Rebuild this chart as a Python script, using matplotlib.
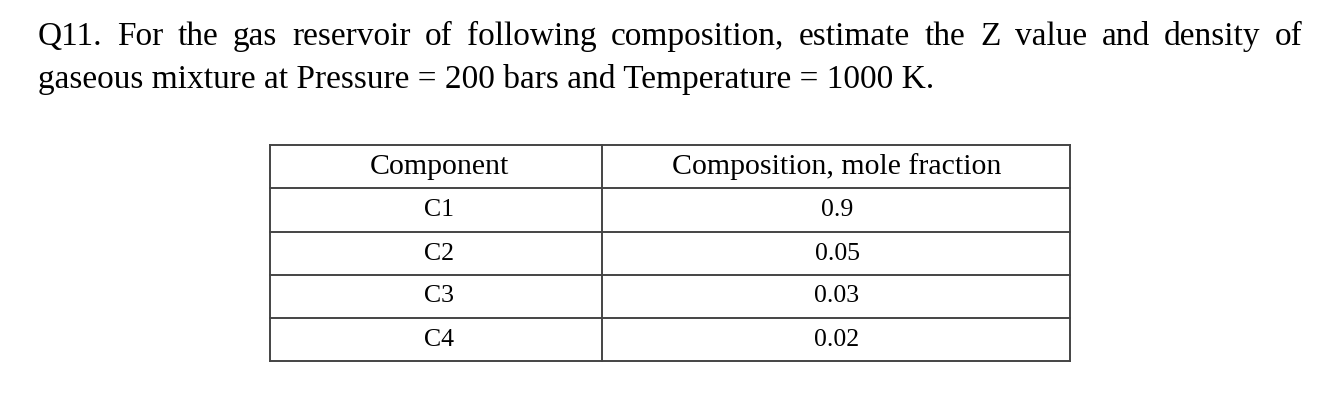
import matplotlib
matplotlib.use("Agg")
import matplotlib.pyplot as plt

components = ["C1", "C2", "C3", "C4"]
fractions = ["0.9", "0.05", "0.03", "0.02"]
headers = ["Component", "Composition, mole fraction"]
line1 = "Q11. For the gas reservoir of following composition, estimate the Z value and density of"
line2 = "gaseous mixture at Pressure = 200 bars and Temperature = 1000 K."

W, H = 1340, 408
fig = plt.figure(figsize=(W/100, H/100), dpi=100)
ax = fig.add_axes([0, 0, 1, 1])
ax.set_xlim(0, W); ax.set_ylim(H, 0); ax.axis("off")
FAM = "Liberation Serif"
FS = 24

fig.canvas.draw()
r = fig.canvas.get_renderer()
words = line1.split()
texts = [ax.text(0, 45, w, fontsize=FS, family=FAM, va="baseline") for w in words]
widths = [t.get_window_extent(r).width for t in texts]
left, right = 38, 1303
gap = (right - left - sum(widths)) / (len(words) - 1)
x = left
for t, w in zip(texts, widths):
    t.set_x(x); x += w + gap
ax.text(left, 88, line2, fontsize=FS, family=FAM, va="baseline")

xl, xm, xr = 270, 602, 1070
ys = [145, 188, 232, 275, 318, 361]
kw = dict(color="#444444", lw=1.4)
for y in ys:
    ax.plot([xl, xr], [y, y], **kw)
for xx in (xl, xm, xr):
    ax.plot([xx, xx], [ys[0], ys[-1]], **kw)
cx1, cx2 = (xl + xm) / 2 + 3, (xm + xr) / 2 + 1
ax.text(cx1, (ys[0]+ys[1])/2, headers[0], fontsize=21.5, family=FAM, ha="center", va="center")
ax.text(cx2, (ys[0]+ys[1])/2, headers[1], fontsize=21.5, family=FAM, ha="center", va="center")
for i, (c, f) in enumerate(zip(components, fractions)):
    yc = (ys[i+1] + ys[i+2]) / 2
    ax.text(cx1, yc, c, fontsize=18.5, family=FAM, ha="center", va="center")
    ax.text(cx2, yc, f, fontsize=18.5, family=FAM, ha="center", va="center")

fig.savefig("out.png", dpi=100)
